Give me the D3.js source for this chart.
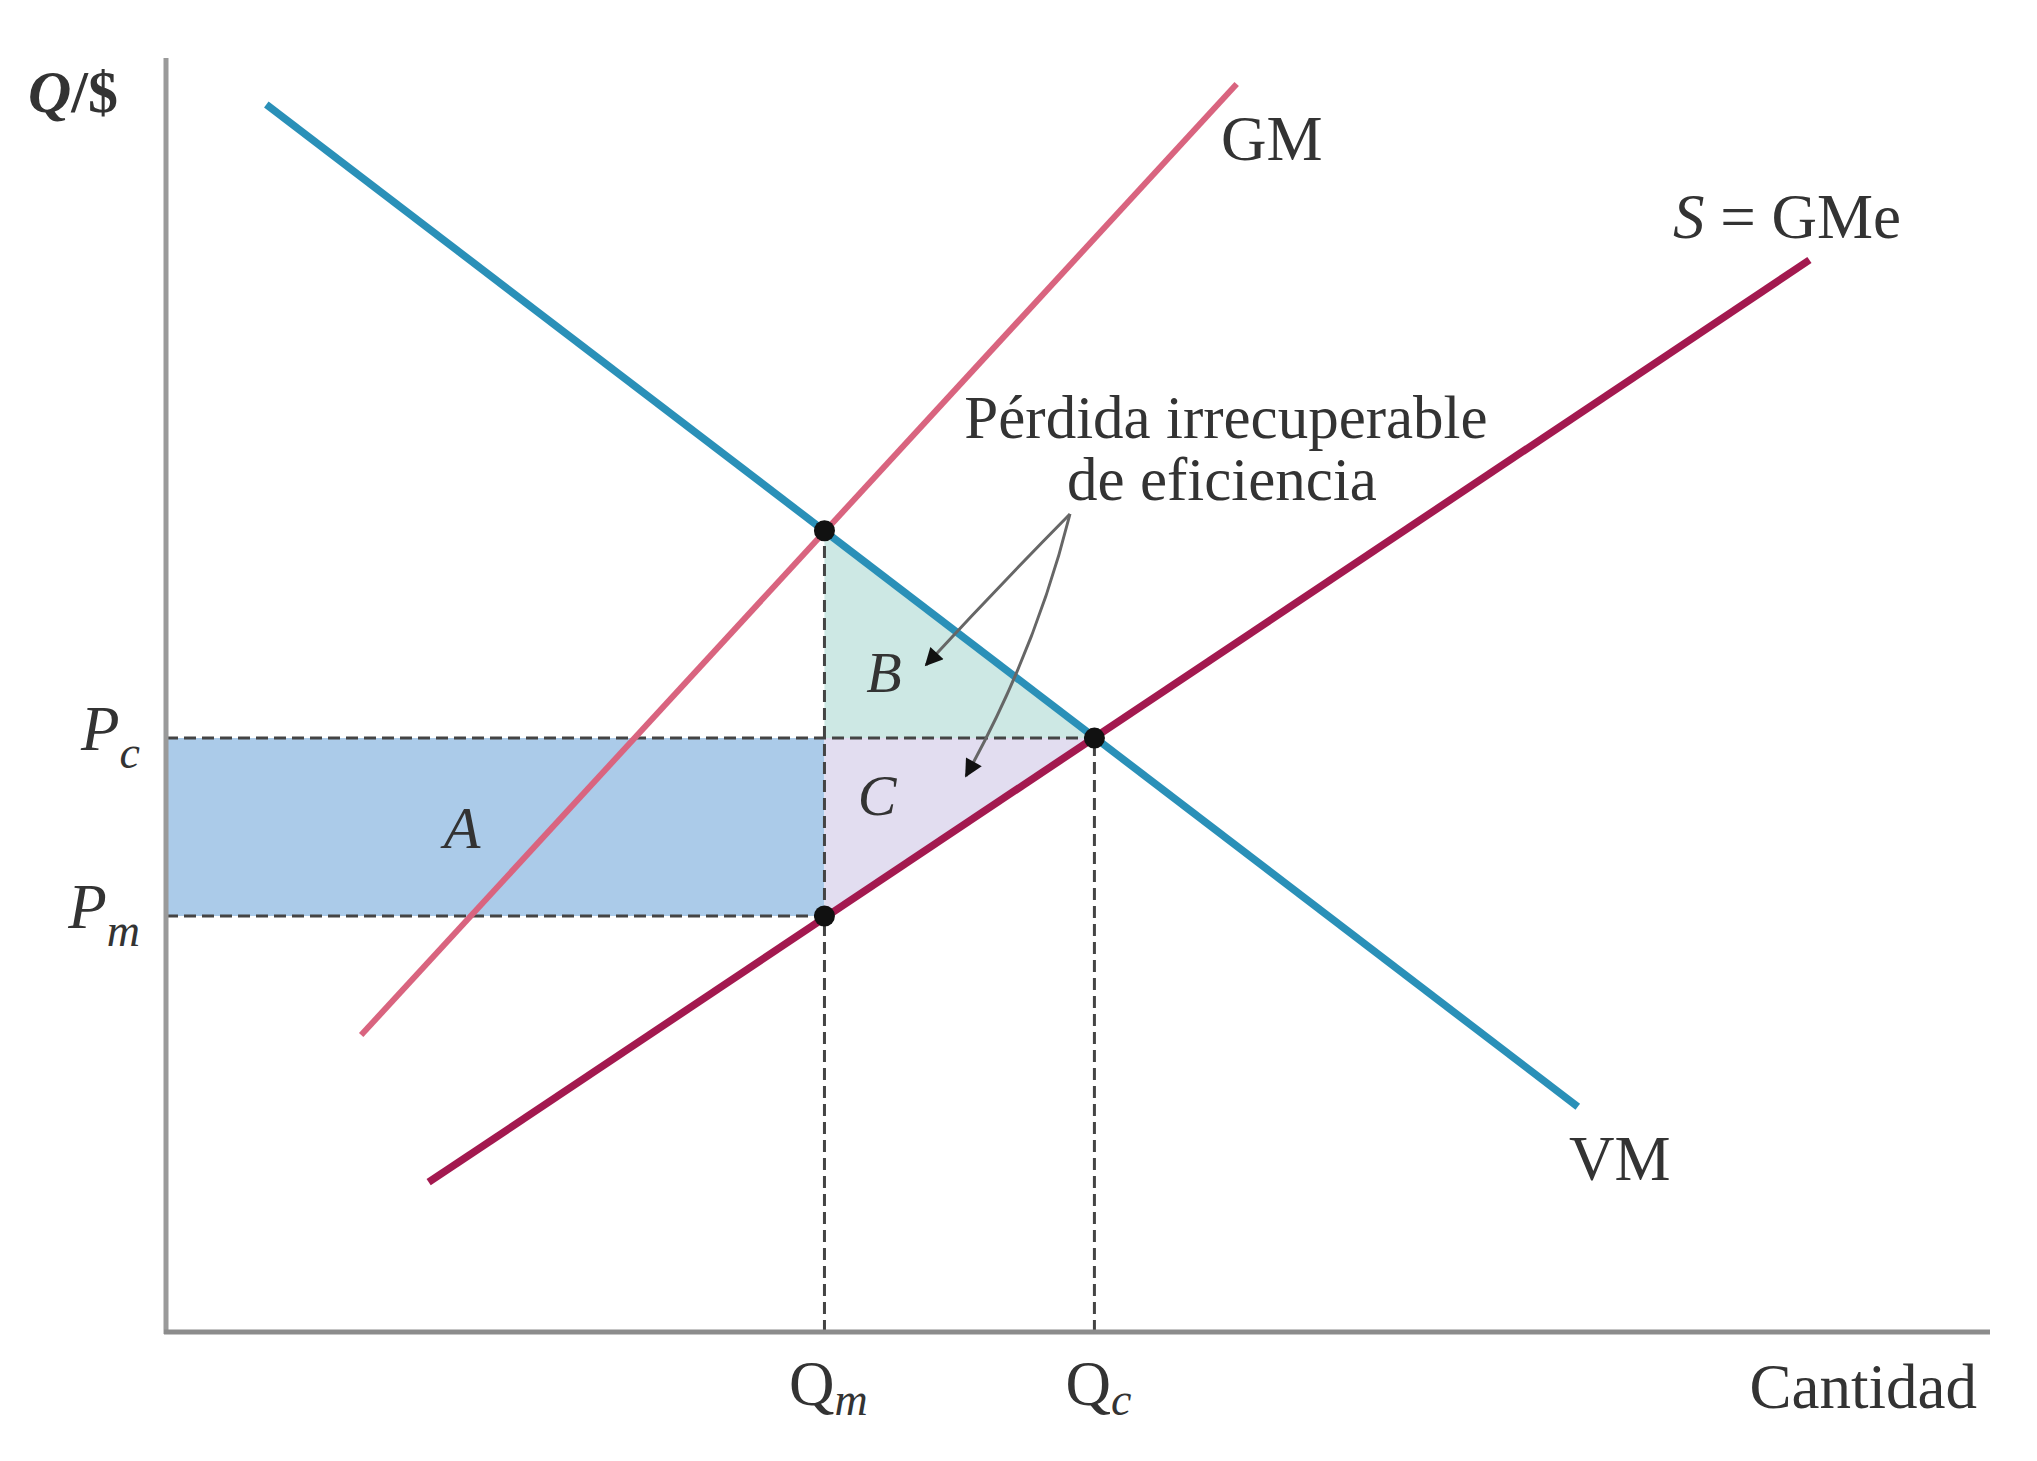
<!DOCTYPE html>
<html>
<head>
<meta charset="utf-8">
<script src="https://cdn.jsdelivr.net/npm/d3@7"></script>
<style>
html,body{margin:0;padding:0;background:#fff;}
svg{display:block;}
text{font-family:"Liberation Serif","DejaVu Serif",serif;fill:#333;}
</style>
</head>
<body>
<svg id="chart" width="2037" height="1461"></svg>
<script>
// ---- Data (arbitrary units; axes 0..100) ----
const lineNames = ["VM", "GM", "S"];
const vmLine = [[5.5, 95.9], [77.4, 17.6]];     // demand / valor marginal
const gmLine = [[10.7, 23.2], [58.7, 97.5]];    // gasto marginal
const sLine  = [[14.4, 11.7], [90.1, 83.75]];   // oferta = gasto medio
const Qm = 36.1, Qc = 50.9;
const Pc = 46.4, Pm = 32.5;
const Ptop = 62.6;                               // VM at Qm
const keyPoints = [[Qm, Ptop], [Qc, Pc], [Qm, Pm]];
const xTickLabels = ["Q", "Q"];
const xTickSubs = ["m", "c"];
const yTickSubs = ["c", "m"];

const svg = d3.select("#chart");
const x = d3.scaleLinear().domain([0, 100]).range([166, 1990]);
const y = d3.scaleLinear().domain([0, 100]).range([1332, 52]);
const line = d3.line().x(d => x(d[0])).y(d => y(d[1]));

// ---- Areas ----
svg.append("path")
  .attr("d", line([[0, Pc], [Qm, Pc], [Qm, Pm], [0, Pm]]) + "Z")
  .attr("fill", "#abcbe9");
svg.append("path")
  .attr("d", line([[Qm, Ptop], [Qm, Pc], [Qc, Pc]]) + "Z")
  .attr("fill", "#cde8e4");
svg.append("path")
  .attr("d", line([[Qm, Pc], [Qc, Pc], [Qm, Pm]]) + "Z")
  .attr("fill", "#e2ddf0");

// ---- Dashed guides ----
const dash = {stroke: "#444", "stroke-width": 3, "stroke-dasharray": "12,6", fill: "none"};
function guide(pts) {
  const p = svg.append("path").attr("d", line(pts));
  Object.entries(dash).forEach(([k, v]) => p.attr(k, v));
}
guide([[0, Pc], [Qc, Pc]]);
guide([[0, Pm], [Qm, Pm]]);
guide([[Qm, 0], [Qm, Ptop]]);
guide([[Qc, 0], [Qc, Pc]]);

// ---- Axes ----
svg.append("line").attr("x1", x(0)).attr("x2", x(0)).attr("y1", y(0) + 2).attr("y2", y(100) + 6)
  .attr("stroke", "#9a9a9a").attr("stroke-width", 5);
svg.append("line").attr("x1", x(0) - 2).attr("x2", x(100)).attr("y1", y(0)).attr("y2", y(0))
  .attr("stroke", "#8c8c8c").attr("stroke-width", 5);

// ---- Curves ----
svg.append("path").attr("d", line(gmLine)).attr("stroke", "#d9647f").attr("stroke-width", 6).attr("fill", "none");
svg.append("path").attr("d", line(sLine)).attr("stroke", "#a3194f").attr("stroke-width", 7.5).attr("fill", "none");
svg.append("path").attr("d", line(vmLine)).attr("stroke", "#2a90b8").attr("stroke-width", 7.5).attr("fill", "none");

// ---- Points ----
svg.selectAll("circle.pt").data(keyPoints).enter().append("circle")
  .attr("class", "pt").attr("cx", d => x(d[0])).attr("cy", d => y(d[1])).attr("r", 10.5).attr("fill", "#111");

// ---- Arrows ----
const defs = svg.append("defs");
defs.append("marker").attr("id", "ah").attr("viewBox", "0 0 10 10").attr("refX", 9).attr("refY", 5)
  .attr("markerWidth", 22).attr("markerHeight", 18).attr("markerUnits", "userSpaceOnUse")
  .attr("orient", "auto")
  .append("path").attr("d", "M0,0 L10,5 L0,10 Z").attr("fill", "#111");
svg.append("path").attr("d", "M1070,514 Q995,590 926,665")
  .attr("stroke", "#666").attr("stroke-width", 3).attr("fill", "none").attr("marker-end", "url(#ah)");
svg.append("path").attr("d", "M1070,514 Q1036,650 966,776")
  .attr("stroke", "#666").attr("stroke-width", 3).attr("fill", "none").attr("marker-end", "url(#ah)");

// ---- Text ----
const F = 63, FS = 46;
function label(tx, ty, parts, anchor, size) {
  const t = svg.append("text").attr("x", tx).attr("y", ty).attr("font-size", size || F)
    .attr("text-anchor", anchor || "start");
  parts.forEach(p => {
    const s = t.append("tspan").text(p.t);
    if (p.i) s.attr("font-style", "italic");
    if (p.sub) s.attr("font-size", FS).attr("dy", p.sub);
  });
  return t;
}
label(28, 112, [{t: "Q", i: true}, {t: "/$"}]).attr("font-weight", "bold").attr("font-size", 60);
label(1221, 160, [{t: "GM"}]);
label(1673, 238, [{t: "S", i: true}, {t: " = GMe"}]);
label(1569, 1180, [{t: "VM"}]);
label(1977, 1408, [{t: "Cantidad"}], "end");
label(1226, 438, [{t: "Pérdida irrecuperable"}], "middle", 61);
label(1222, 500, [{t: "de eficiencia"}], "middle", 61);
[Qm, Qc].forEach((q, i) => {
  label(x(q) + 4, 1405, [{t: xTickLabels[i]}, {t: xTickSubs[i], i: true, sub: 10}], "middle");
});
[Pc, Pm].forEach((p, i) => {
  label(140, y(p) + 12, [{t: "P", i: true}, {t: yTickSubs[i], i: true, sub: 18}], "end");
});
label(462, 848, [{t: "A", i: true}], "middle", 60);
label(884, 692, [{t: "B", i: true}], "middle", 58);
label(877, 815, [{t: "C", i: true}], "middle", 58);
</script>
</body>
</html>
